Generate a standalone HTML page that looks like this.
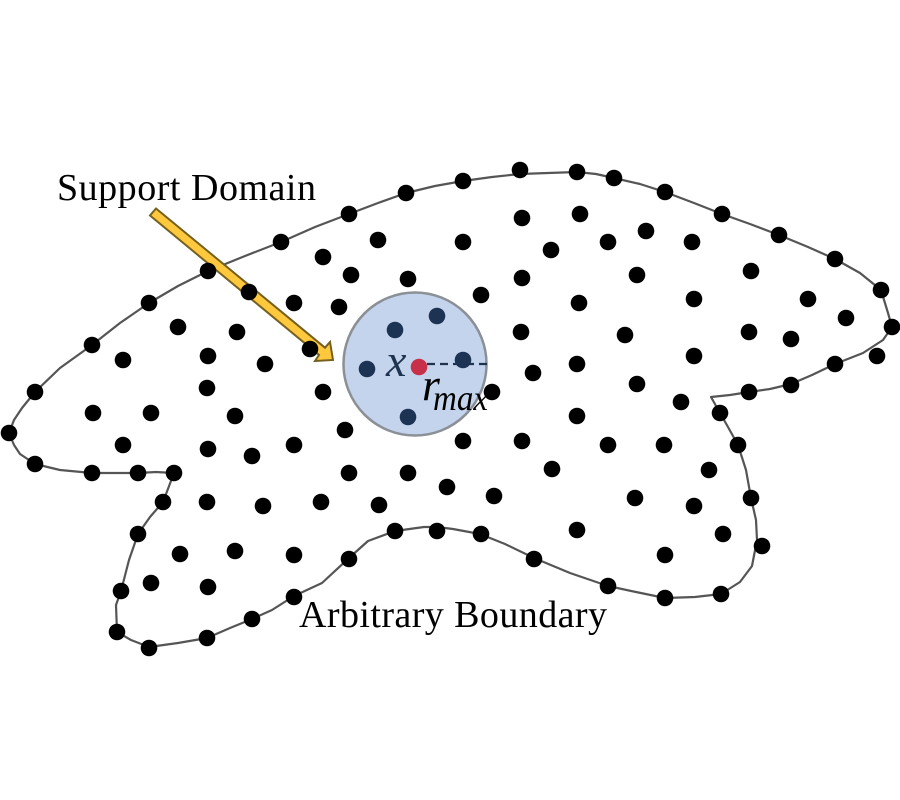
<!DOCTYPE html>
<html>
<head>
<meta charset="utf-8">
<style>
html,body{margin:0;padding:0;background:#fff;}
svg{display:block;}
text{font-family:"Liberation Serif",serif;}
</style>
</head>
<body>
<svg width="900" height="800" viewBox="0 0 900 800" xmlns="http://www.w3.org/2000/svg">
<rect width="900" height="800" fill="#fff"/>
<polyline fill="none" stroke="#555" stroke-width="2.2" stroke-linejoin="round" points="9,433 14,420 22,408 35,392 60,368 92,345 120,323 149,303 178,286 208,271 245,256 281,242 315,227 349,214 378,203 406,193 435,186 463,181 492,177 520,174 548,173 577,172 596,174 614,178 640,184 665,192 694,203 722,214 750,224 779,235 808,247 835,259 860,273 881,290 888,313 892,327 883,340 863,353 835,364 812,375 791,384 770,389 749,392 730,395 711,397 720,413 728,427 738,445 746,470 751,498 756,520 757,540 752,566 740,582 721,594 695,597 665,598 636,592 608,586 570,573 534,558 505,544 480,534 453,529 437,527 424,527 395,531 368,541 349,558 322,583 294,596 272,610 252,619 230,628 207,638 178,643 149,647 131,640 117,632 116,605 121,591 129,560 138,534 150,517 163,502 174,473 156,472 138,473 115,473 92,473 60,470 35,464 20,454 14,445 9,433"/>
<polygon points="156,208.5 150,215.5 319,355 315,361 333,360 330,342 325,347.7" fill="#ffc83d" stroke="#75601f" stroke-width="2" stroke-linejoin="miter"/>
<circle cx="415" cy="364" r="71.5" fill="#c3d4ec" stroke="#8b8f96" stroke-width="2.5"/>
<g fill="#000">
<circle cx="9" cy="433" r="8.3"/><circle cx="35" cy="392" r="8.3"/><circle cx="92" cy="345" r="8.3"/><circle cx="149" cy="303" r="8.3"/><circle cx="208" cy="271" r="8.3"/><circle cx="281" cy="242" r="8.3"/><circle cx="349" cy="214" r="8.3"/><circle cx="406" cy="193" r="8.3"/><circle cx="463" cy="181" r="8.3"/><circle cx="520" cy="170" r="8.3"/><circle cx="577" cy="172" r="8.3"/><circle cx="614" cy="178" r="8.3"/><circle cx="665" cy="192" r="8.3"/><circle cx="722" cy="214" r="8.3"/><circle cx="779" cy="235" r="8.3"/><circle cx="835" cy="259" r="8.3"/><circle cx="881" cy="290" r="8.3"/><circle cx="892" cy="327" r="8.3"/><circle cx="877" cy="356" r="8.3"/><circle cx="835" cy="364" r="8.3"/><circle cx="791" cy="385" r="8.3"/><circle cx="749" cy="392" r="8.3"/><circle cx="720" cy="413" r="8.3"/><circle cx="738" cy="445" r="8.3"/><circle cx="751" cy="498" r="8.3"/><circle cx="762" cy="546" r="8.3"/><circle cx="721" cy="594" r="8.3"/><circle cx="665" cy="598" r="8.3"/><circle cx="608" cy="586" r="8.3"/><circle cx="534" cy="559" r="8.3"/><circle cx="481" cy="534" r="8.3"/><circle cx="437" cy="531" r="8.3"/><circle cx="395" cy="531" r="8.3"/><circle cx="349" cy="559" r="8.3"/><circle cx="294" cy="597" r="8.3"/><circle cx="252" cy="619" r="8.3"/><circle cx="207" cy="638" r="8.3"/><circle cx="149" cy="648" r="8.3"/><circle cx="117" cy="632" r="8.3"/><circle cx="121" cy="591" r="8.3"/><circle cx="138" cy="534" r="8.3"/><circle cx="163" cy="502" r="8.3"/><circle cx="174" cy="473" r="8.3"/><circle cx="138" cy="473" r="8.3"/><circle cx="92" cy="473" r="8.3"/><circle cx="35" cy="464" r="8.3"/>
<circle cx="522" cy="218" r="8.3"/><circle cx="580" cy="214" r="8.3"/><circle cx="463" cy="242" r="8.3"/><circle cx="551" cy="250" r="8.3"/><circle cx="608" cy="242" r="8.3"/><circle cx="646" cy="231" r="8.3"/><circle cx="692" cy="242" r="8.3"/><circle cx="378" cy="240" r="8.3"/><circle cx="323" cy="257" r="8.3"/><circle cx="351" cy="275" r="8.3"/><circle cx="408" cy="279" r="8.3"/><circle cx="522" cy="278" r="8.3"/><circle cx="637" cy="275" r="8.3"/><circle cx="751" cy="271" r="8.3"/><circle cx="808" cy="299" r="8.3"/><circle cx="846" cy="318" r="8.3"/><circle cx="481" cy="295" r="8.3"/><circle cx="294" cy="303" r="8.3"/><circle cx="339" cy="307" r="8.3"/><circle cx="579" cy="303" r="8.3"/><circle cx="694" cy="299" r="8.3"/><circle cx="178" cy="327" r="8.3"/><circle cx="237" cy="332" r="8.3"/><circle cx="521" cy="332" r="8.3"/><circle cx="625" cy="335" r="8.3"/><circle cx="749" cy="332" r="8.3"/><circle cx="791" cy="339" r="8.3"/><circle cx="123" cy="360" r="8.3"/><circle cx="208" cy="356" r="8.3"/><circle cx="265" cy="364" r="8.3"/><circle cx="577" cy="364" r="8.3"/><circle cx="694" cy="356" r="8.3"/><circle cx="533" cy="373" r="8.3"/><circle cx="207" cy="388" r="8.3"/><circle cx="323" cy="392" r="8.3"/><circle cx="492" cy="392" r="8.3"/><circle cx="637" cy="384" r="8.3"/><circle cx="681" cy="402" r="8.3"/><circle cx="93" cy="413" r="8.3"/><circle cx="151" cy="413" r="8.3"/><circle cx="235" cy="416" r="8.3"/><circle cx="577" cy="416" r="8.3"/><circle cx="123" cy="445" r="8.3"/><circle cx="208" cy="449" r="8.3"/><circle cx="252" cy="456" r="8.3"/><circle cx="294" cy="445" r="8.3"/><circle cx="345" cy="430" r="8.3"/><circle cx="463" cy="441" r="8.3"/><circle cx="522" cy="441" r="8.3"/><circle cx="608" cy="445" r="8.3"/><circle cx="664" cy="445" r="8.3"/><circle cx="709" cy="470" r="8.3"/><circle cx="349" cy="473" r="8.3"/><circle cx="408" cy="473" r="8.3"/><circle cx="552" cy="469" r="8.3"/><circle cx="447" cy="487" r="8.3"/><circle cx="207" cy="502" r="8.3"/><circle cx="263" cy="506" r="8.3"/><circle cx="321" cy="502" r="8.3"/><circle cx="379" cy="505" r="8.3"/><circle cx="494" cy="496" r="8.3"/><circle cx="635" cy="498" r="8.3"/><circle cx="694" cy="506" r="8.3"/><circle cx="723" cy="534" r="8.3"/><circle cx="180" cy="554" r="8.3"/><circle cx="235" cy="551" r="8.3"/><circle cx="294" cy="555" r="8.3"/><circle cx="577" cy="530" r="8.3"/><circle cx="665" cy="555" r="8.3"/><circle cx="151" cy="583" r="8.3"/><circle cx="208" cy="587" r="8.3"/><circle cx="249" cy="292" r="8.3"/><circle cx="310" cy="349" r="8.3"/>
</g>
<line x1="427" y1="364" x2="488" y2="364" stroke="#1f3350" stroke-width="2.2" stroke-dasharray="8 5"/>
<g fill="#1c3354">
<circle cx="395" cy="330" r="8.3"/><circle cx="437" cy="316" r="8.3"/><circle cx="463" cy="360" r="8.3"/><circle cx="367" cy="369" r="8.3"/><circle cx="408" cy="417" r="8.3"/>
</g>
<circle cx="419" cy="367" r="8.3" fill="#c8304a"/>
<text x="386" y="376" font-size="46" font-style="italic" fill="#1f3350">x</text>
<text x="422" y="400" font-size="46" font-style="italic" fill="#000">r</text>
<text x="433" y="410" font-size="36" font-style="italic" fill="#000" textLength="55" lengthAdjust="spacingAndGlyphs">max</text>
<text x="57" y="200" font-size="38" fill="#000" textLength="259" lengthAdjust="spacing">Support Domain</text>
<text x="299" y="627" font-size="38" fill="#000" textLength="308" lengthAdjust="spacing">Arbitrary Boundary</text>
</svg>
</body>
</html>
